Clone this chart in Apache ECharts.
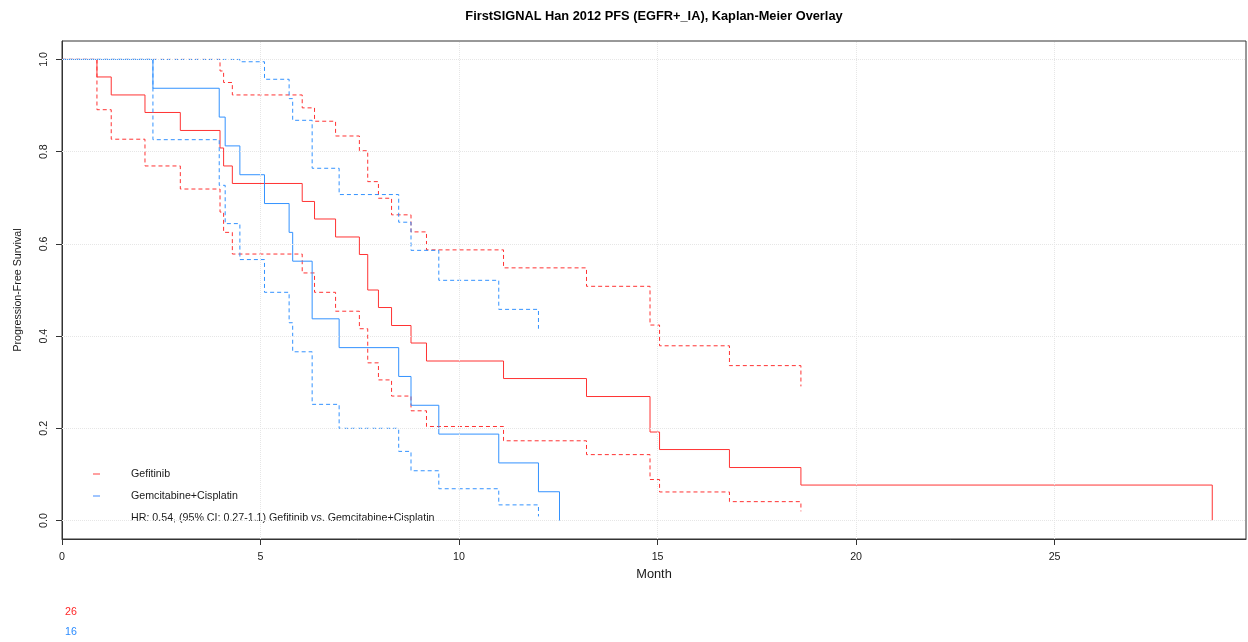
<!DOCTYPE html>
<html>
<head>
<meta charset="utf-8">
<title>FirstSIGNAL Han 2012 PFS</title>
<script src="https://cdn.jsdelivr.net/npm/echarts@6/dist/echarts.min.js"></script>
<style>
  html, body { margin: 0; padding: 0; background: #fff; }
  #chart { width: 1248px; height: 642px; }
</style>
</head>
<body>
<div id="chart"></div>
<script>
// Kaplan-Meier step estimates (months, survival) with pointwise 95% bands
const gefTimes = [0, 0.88, 1.24, 2.09, 2.98, 3.98, 4.07, 4.29, 6.05, 6.36, 6.89, 7.49, 7.70, 7.97, 8.30, 8.79, 9.18, 11.12, 13.21, 14.81, 15.05, 16.81, 18.61, 28.97];
const gefSurv  = [1, 0.962, 0.923, 0.885, 0.846, 0.808, 0.769, 0.731, 0.692, 0.654, 0.615, 0.577, 0.500, 0.462, 0.423, 0.385, 0.346, 0.308, 0.269, 0.192, 0.154, 0.115, 0.077, 0];
const gefUpper = [1, 1, 1, 1, 1, 0.975, 0.950, 0.923, 0.895, 0.866, 0.834, 0.802, 0.735, 0.699, 0.663, 0.626, 0.587, 0.548, 0.508, 0.424, 0.379, 0.336, 0.291];
const gefLower = [1, 0.891, 0.827, 0.769, 0.719, 0.669, 0.625, 0.578, 0.537, 0.495, 0.454, 0.416, 0.342, 0.305, 0.270, 0.238, 0.204, 0.173, 0.143, 0.089, 0.062, 0.041, 0.020];

const gemTimes = [0, 2.29, 3.96, 4.11, 4.48, 5.10, 5.72, 5.81, 6.30, 6.98, 8.48, 8.79, 9.49, 11.00, 12.00, 12.53];
const gemSurv  = [1, 0.9375, 0.875, 0.8125, 0.75, 0.6875, 0.625, 0.5625, 0.4375, 0.375, 0.3125, 0.25, 0.1875, 0.125, 0.0625, 0];
const gemUpper = [1, 1, 1, 1, 0.995, 0.957, 0.915, 0.868, 0.764, 0.707, 0.647, 0.586, 0.521, 0.458, 0.416];
const gemLower = [1, 0.826, 0.727, 0.644, 0.566, 0.495, 0.429, 0.366, 0.252, 0.200, 0.150, 0.108, 0.069, 0.034, 0.009];

const armNames = ['Gefitinib', 'Gemcitabine+Cisplatin'];
const atRisk = [26, 16];
const hrText = 'HR: 0.54, (95% CI: 0.27-1.1) Gefitinib vs. Gemcitabine+Cisplatin';
const titleText = 'FirstSIGNAL Han 2012 PFS (EGFR+_IA), Kaplan-Meier Overlay';

const xTicks = [0, 5, 10, 15, 20, 25];
const yTicks = [0, 0.2, 0.4, 0.6, 0.8, 1.0];

const RED = '#ff3333';
const BLUE = '#3392ff';
const FONT = '"Liberation Sans", Arial, Helvetica, sans-serif';
const TXT = '#1a1a1a';

function pairs(times, vals) {
  return vals.map((v, i) => [times[i], v]);
}

function stepSeries(name, data, color, dashed) {
  return {
    name: name,
    type: 'line',
    step: 'end',
    data: data,
    symbol: 'none',
    silent: true,
    animation: false,
    lineStyle: { color: color, width: 1, type: dashed ? [4, 3] : 'solid' }
  };
}

const chart = echarts.init(document.getElementById('chart'), null, { renderer: 'canvas' });

const gridLineStyle = { color: '#e6e6e6', type: 'dotted', width: 1 };

const option = {
  animation: false,
  backgroundColor: '#ffffff',
  textStyle: { fontFamily: FONT },
  grid: {
    left: 62, right: 2, top: 41, bottom: 103,
    show: true, borderColor: '#333', borderWidth: 1, backgroundColor: 'transparent'
  },
  xAxis: {
    type: 'value',
    min: 0,
    max: 29.82,
    name: 'Month',
    nameLocation: 'middle',
    nameGap: 26,
    nameTextStyle: { fontSize: 12.8, color: TXT, fontFamily: FONT },
    axisLine: { show: true, onZero: false, lineStyle: { color: '#333', width: 1 } },
    axisTick: { show: true, length: 6, customValues: xTicks, lineStyle: { color: '#333' } },
    axisLabel: { customValues: xTicks, fontSize: 10.67, color: TXT, margin: 13, fontFamily: FONT },
    splitLine: { show: false }
  },
  yAxis: {
    type: 'value',
    min: -0.04,
    max: 1.04,
    name: 'Progression-Free Survival',
    nameLocation: 'middle',
    nameGap: 38,
    nameTextStyle: { fontSize: 10.67, color: TXT, fontFamily: FONT },
    axisLine: { show: true, onZero: false, lineStyle: { color: '#333', width: 1 } },
    axisTick: { show: true, length: 6, customValues: yTicks, lineStyle: { color: '#333' } },
    axisLabel: {
      customValues: yTicks, rotate: 90, fontSize: 10.67, color: TXT, margin: 12, fontFamily: FONT,
      formatter: v => v.toFixed(1)
    },
    splitLine: { show: false }
  },
  series: [
    {
      name: 'grid',
      type: 'line',
      data: [],
      silent: true,
      markLine: {
        silent: true,
        symbol: 'none',
        label: { show: false },
        lineStyle: gridLineStyle,
        data: xTicks.filter(v => v > 0).map(v => ({ xAxis: v }))
          .concat(yTicks.map(v => ({ yAxis: v })))
      }
    },
    stepSeries(armNames[0], pairs(gefTimes, gefSurv), RED, false),
    stepSeries(armNames[0] + ' upper', pairs(gefTimes, gefUpper), RED, true),
    stepSeries(armNames[0] + ' lower', pairs(gefTimes, gefLower), RED, true),
    stepSeries(armNames[1], pairs(gemTimes, gemSurv), BLUE, false),
    stepSeries(armNames[1] + ' upper', pairs(gemTimes, gemUpper), BLUE, true),
    stepSeries(armNames[1] + ' lower', pairs(gemTimes, gemLower), BLUE, true)
  ],
  graphic: [
    {
      type: 'text', x: 654, y: 16,
      style: { text: titleText, font: 'bold 12.8px ' + FONT, fill: '#000', align: 'center', verticalAlign: 'middle' }
    },
    // legend keys
    { type: 'line', shape: { x1: 93, y1: 474, x2: 100, y2: 474 }, style: { stroke: '#ff8080', lineWidth: 1.5 } },
    { type: 'line', shape: { x1: 93, y1: 496, x2: 100, y2: 496 }, style: { stroke: '#7fb2ff', lineWidth: 1.5 } },
    { type: 'text', x: 131, y: 474, style: { text: armNames[0], font: '10.67px ' + FONT, fill: TXT, verticalAlign: 'middle' } },
    { type: 'text', x: 131, y: 496, style: { text: armNames[1], font: '10.67px ' + FONT, fill: TXT, verticalAlign: 'middle' } },
    { type: 'text', x: 131, y: 518, style: { text: hrText, font: '10.67px ' + FONT, fill: TXT, verticalAlign: 'middle' } },
    // numbers at risk
    { type: 'text', x: 65, y: 612, style: { text: String(atRisk[0]), font: '10.67px ' + FONT, fill: '#ff2626', verticalAlign: 'middle' } },
    { type: 'text', x: 65, y: 632, style: { text: String(atRisk[1]), font: '10.67px ' + FONT, fill: '#2b8cff', verticalAlign: 'middle' } }
  ]
};

chart.setOption(option);
</script>
</body>
</html>
